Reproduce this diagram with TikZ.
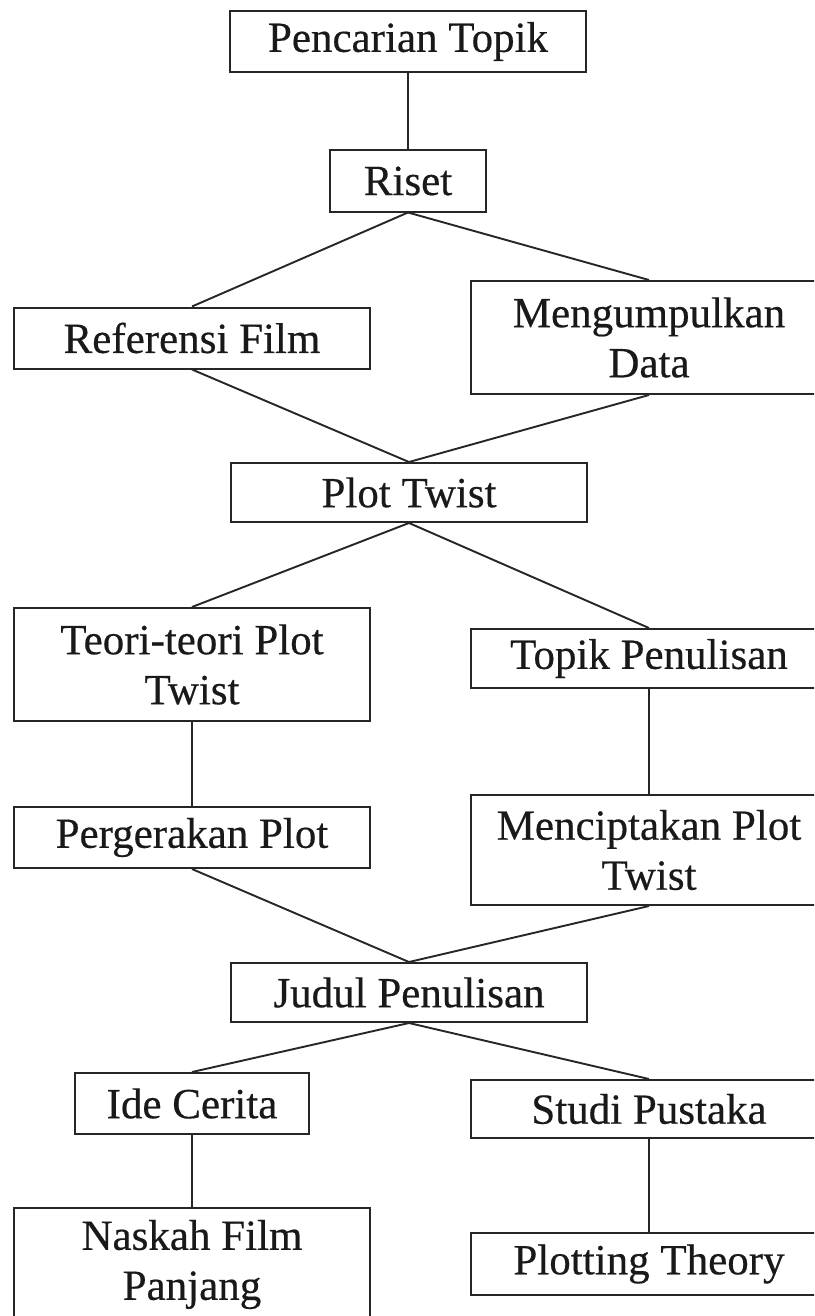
\documentclass[tikz,border=0pt]{standalone}
\usepackage{fontspec}
\setmainfont{Liberation Serif}[FakeBold=0.4]
\begin{document}
\begin{tikzpicture}[x=1pt,y=-1pt,
  box/.style={draw=black!85, line width=2pt, rectangle, minimum width=356pt, inner sep=0pt, align=center, font=\fontsize{43}{50}\selectfont, text=black!90},
  conn/.style={draw=black!85, line width=1.9pt}]
\useasboundingbox (0,0) rectangle (814,1316);
\clip (0,0) rectangle (814,1316);
\fill[white] (0,0) rectangle (814,1316);
\node[box, minimum height=61pt] (pt) at (408,41.5) {Pencarian Topik};
\node[box, minimum width=156pt, minimum height=61pt] (riset) at (408,181) {Riset};
\node[box, minimum height=61pt] (ref) at (192,338) {Referensi Film};
\node[box, minimum height=113pt] (data) at (649,337.5) {Mengumpulkan\\Data};
\node[box, minimum height=59pt] (plot) at (409,492.5) {Plot Twist};
\node[box, minimum height=113pt] (teori) at (192,664.5) {Teori-teori Plot\\Twist};
\node[box, minimum height=59pt] (topik) at (649,658.5) {Topik Penulisan};
\node[box, minimum height=61pt] (perg) at (192,837.5) {Pergerakan Plot};
\node[box, minimum height=110pt] (menc) at (649,850) {Menciptakan Plot\\Twist};
\node[box, minimum height=59pt] (judul) at (409,992.5) {Judul Penulisan};
\node[box, minimum width=234pt, minimum height=61pt] (ide) at (192,1103.5) {Ide Cerita};
\node[box, minimum height=58pt] (studi) at (649,1109) {Studi Pustaka};
\node[box, minimum height=113pt] (naskah) at (192,1264.5) {Naskah Film\\Panjang};
\node[box, minimum height=62pt] (plotting) at (649,1264) {Plotting Theory};
\draw[conn] (pt.south) -- (riset.north);
\draw[conn] (riset.south) -- (ref.north);
\draw[conn] (riset.south) -- (data.north);
\draw[conn] (ref.south) -- (plot.north);
\draw[conn] (data.south) -- (plot.north);
\draw[conn] (plot.south) -- (teori.north);
\draw[conn] (plot.south) -- (topik.north);
\draw[conn] (teori.south) -- (perg.north);
\draw[conn] (topik.south) -- (menc.north);
\draw[conn] (perg.south) -- (judul.north);
\draw[conn] (menc.south) -- (judul.north);
\draw[conn] (judul.south) -- (ide.north);
\draw[conn] (judul.south) -- (studi.north);
\draw[conn] (ide.south) -- (naskah.north);
\draw[conn] (studi.south) -- (plotting.north);
\end{tikzpicture}
\end{document}
